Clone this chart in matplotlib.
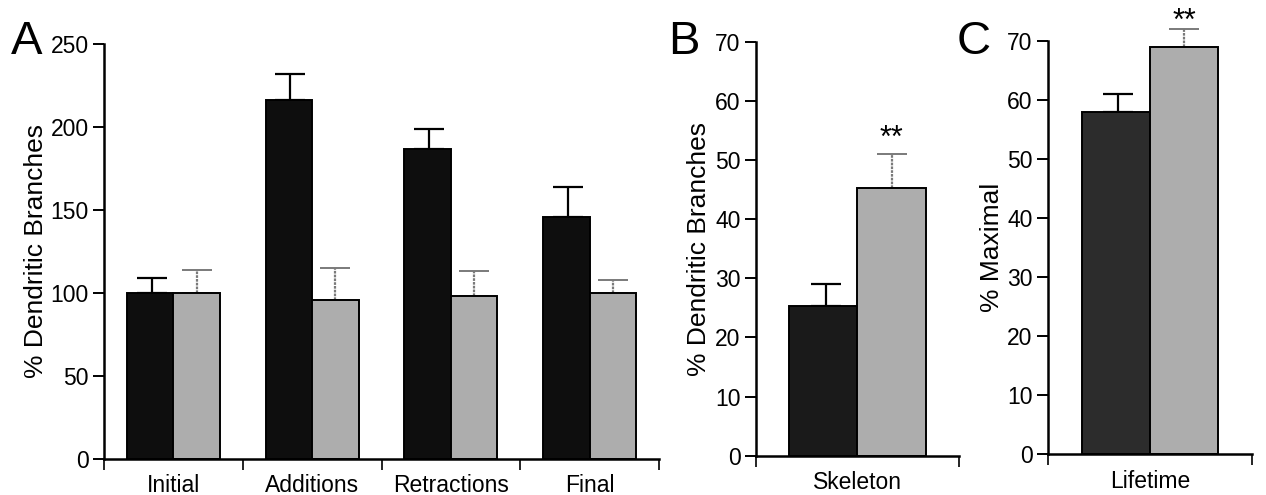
import numpy as np
import matplotlib
matplotlib.use('Agg')
import matplotlib.pyplot as plt

plt.rcParams['font.family'] = ['Liberation Sans', 'DejaVu Sans']

# panel A : % dendritic branches
groups_a = ['Initial', 'Additions', 'Retractions', 'Final']
black_a = [100, 216, 187, 146]
black_a_err = [9, 16, 12, 18]
gray_a = [100, 96, 98, 100]
gray_a_err = [14, 19, 15, 8]

# panel B : skeleton
groups_b = ['Skeleton']
black_b = [25.3]
black_b_err = [3.8]
gray_b = [45.2]
gray_b_err = [5.8]

# panel C : lifetime
groups_c = ['Lifetime']
black_c = [58]
black_c_err = [3]
gray_c = [69]
gray_c_err = [3]

W, H = 1266, 495
fig = plt.figure(figsize=(W / 100, H / 100), dpi=100)


def px_axes(x0, x1, y0, y1):
    # x0,x1 left/right ; y0 = pixel of value 0, y1 = pixel of top value
    return fig.add_axes([x0 / W, 1 - y0 / H, (x1 - x0) / W, (y0 - y1) / H])


def draw_panel(ax, groups, black, black_err, gray, gray_err, dark, ymax, ystep, ylabel, lpad):
    n = len(groups)
    x = np.arange(n) + 0.5
    w = 0.335
    ax.bar(x - w / 2, black, w, color=dark, edgecolor='black', linewidth=1.4, zorder=2)
    ax.bar(x + w / 2, gray, w, color='#adadad', edgecolor='black', linewidth=1.4, zorder=2)
    eb1 = ax.errorbar(x - w / 2 + 0.01, np.array(black) + np.array(black_err) / 2,
                      yerr=np.array(black_err) / 2, fmt='none', ecolor='black',
                      elinewidth=1.6, capsize=11, capthick=1.6, zorder=1)
    eb2 = ax.errorbar(x + w / 2, np.array(gray) + np.array(gray_err) / 2,
                      yerr=np.array(gray_err) / 2, fmt='none', ecolor='#7a7a7a',
                      elinewidth=1.6, capsize=11, capthick=1.4, zorder=1)
    eb2[2][0].set_linestyle((0, (1.2, 0.5)))
    for eb in (eb1, eb2):
        for art in list(eb[1]) + list(eb[2]):
            art.set_clip_on(False)

    ax.set_xlim(0, n)
    ax.set_ylim(0, ymax)
    ax.set_yticks(np.arange(0, ymax + 1, ystep))
    ax.set_xticks(np.arange(n + 1))
    ax.set_xticklabels([])
    ax.set_xticks(x, minor=True)
    ax.set_xticklabels(groups, minor=True)
    ax.tick_params(axis='x', which='major', direction='out', length=8, width=1.2)
    ax.tick_params(axis='x', which='minor', length=0, pad=11, labelsize=16.5)
    ax.tick_params(axis='y', direction='out', length=8, width=1.4, labelsize=16.5, pad=3)
    for s in ['top', 'right']:
        ax.spines[s].set_visible(False)
    for s in ['left', 'bottom']:
        ax.spines[s].set_linewidth(1.8)
    ax.set_ylabel(ylabel, fontsize=19, labelpad=lpad)
    ax.patch.set_alpha(0)
    return x + w / 2


ax_a = px_axes(104, 659, 459, 44)
draw_panel(ax_a, groups_a, black_a, black_a_err, gray_a, gray_a_err,
           '#0e0e0e', 250, 50, '% Dendritic Branches', 2)

ax_b = px_axes(756, 959, 455.7, 41.7)
xb = draw_panel(ax_b, groups_b, black_b, black_b_err, gray_b, gray_b_err,
                '#1a1a1a', 70, 10, '% Dendritic Branches', 3)
ax_b.text(xb[0], gray_b[0] + gray_b_err[0] + 0.1, '**', ha='center', va='bottom',
          fontsize=22)

ax_c = px_axes(1048, 1252, 454.3, 41)
xc = draw_panel(ax_c, groups_c, black_c, black_c_err, gray_c, gray_c_err,
                '#2c2c2c', 70, 10, '% Maximal', 2)
ax_c.text(xc[0], gray_c[0] + gray_c_err[0] - 1.3, '**', ha='center', va='bottom',
          fontsize=22, clip_on=False)

for lab, xp in [('A', 27), ('B', 684), ('C', 974)]:
    fig.text(xp / W, 1 - 42 / H, lab, fontsize=34, ha='center', va='center')

fig.savefig('out.png', dpi=100)
